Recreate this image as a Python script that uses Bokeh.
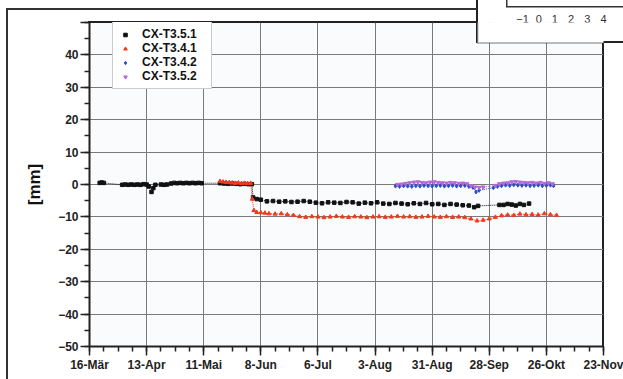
from bokeh.plotting import figure
from bokeh.models import (FixedTicker, Legend, LegendItem, BoxAnnotation,
                          LinearAxis, Range1d, ColumnDataSource)
from bokeh.embed import file_html
from bokeh.resources import INLINE

# ---- data (x = days since 16-Mär) ----
tick_days = [0, 28, 56, 84, 112, 140, 168, 196, 224, 252]
tick_labels = ["16-Mär", "13-Apr", "11-Mai", "8-Jun", "6-Jul", "3-Aug",
               "31-Aug", "28-Sep", "26-Okt", "23-Nov"]
y_ticks = [-50, -40, -30, -20, -10, 0, 10, 20, 30, 40, 50]

cx351_days = [5, 6, 7, 16, 17.5, 19, 20.5, 22, 23.5, 25, 26.5, 28,
              29, 30.4, 31.3, 32.3, 35, 36.5, 38,
              40, 41.5, 43, 44.5, 46, 47.5, 49, 50.5, 52, 53.5, 55,
              64, 66, 68, 70, 72, 74, 76, 78, 79.6, 80.2, 82, 84,
              87, 90, 93, 96, 99, 102, 105, 108, 111, 114, 117, 120, 123, 126,
              129, 132, 135, 138, 141, 144, 147, 150, 153, 156, 159, 162, 165,
              168, 171, 174, 177, 180, 183, 186, 188.6, 190.5,
              201, 203, 205, 207, 209, 211, 213, 215.5]
cx351_vals = [0.5, 0.6, 0.5, -0.1, 0.0, -0.1, 0.0, -0.1, 0.0, -0.1, 0.1, 0.0,
              -0.6, -2.3, -1.1, -0.1, 0.0, -0.1, 0.0,
              0.3, 0.5, 0.4, 0.5, 0.4, 0.5, 0.4, 0.5, 0.4, 0.5, 0.4,
              0.4, 0.3, 0.2, 0.3, 0.2, 0.1, 0.2, 0.1, 0.1, -4.0, -4.5, -4.7,
              -5.2, -5.1, -5.3, -5.2, -5.4, -5.3, -5.1, -5.3, -5.6, -5.8, -5.5,
              -5.6, -5.7, -5.4, -5.5, -5.9, -5.6, -5.8, -5.5, -5.9, -6.0, -5.7,
              -5.9, -6.1, -5.8, -6.0, -5.7, -6.1, -6.0, -6.3, -6.0, -6.2, -6.4,
              -6.5, -7.0, -6.6,
              -6.3, -6.3, -6.0, -6.2, -6.5, -6.0, -6.3, -5.9]

cx341_days = [64, 65.5, 67, 68.5, 70, 71.5, 73, 74.5, 76, 77.5, 79, 79.8, 80.6,
              82, 84, 86, 88, 91, 94, 97, 100, 103, 106, 109, 112, 115, 118,
              121, 124, 127, 130, 133, 136, 139, 142, 145, 148, 151, 154, 157,
              160, 163, 166, 169, 172, 175, 178, 181, 184, 187, 190, 193, 196,
              199, 202, 205, 208, 211, 214, 217, 220, 223, 226, 229]
cx341_vals = [1.0, 0.8, 0.7, 0.6, 0.5, 0.4, 0.5, 0.3, 0.4, 0.3, 0.4, -4.5, -8.0,
              -8.6, -8.7, -8.8, -9.0, -9.1, -9.0, -9.3, -9.5, -9.9, -10.1, -9.9,
              -10.0, -10.2, -10.0, -9.8, -10.0, -10.1, -9.9, -10.0, -10.2, -10.0,
              -9.9, -10.1, -10.0, -9.8, -10.0, -9.9, -10.1, -10.0, -9.8, -10.0,
              -10.1, -9.9, -10.1, -10.0, -10.2, -10.6, -11.2, -11.0, -10.6,
              -10.1, -9.6, -9.4, -9.5, -9.1, -9.3, -9.2, -9.4, -9.0, -9.3, -9.5]

cx342_days = [150, 152, 154, 156, 158, 160, 162, 164, 166, 168, 170, 172, 174,
              176, 178, 180, 182, 184, 186, 188, 189.5, 191,
              198, 200, 202, 204, 206, 208, 210, 212, 214, 216, 218, 220, 222,
              224, 226, 227.5]
cx342_vals = [-0.5, -0.6, -0.4, -0.5, -0.6, -0.4, -0.5, -0.3, -0.4, -0.5, -0.4,
              -0.3, -0.5, -0.4, -0.3, -0.5, -0.4, -0.3, -0.6, -0.9, -2.3, -1.8,
              -1.0, -0.6, -0.4, -0.2, -0.3, -0.1, -0.2, -0.3, -0.2, -0.4, -0.3,
              -0.2, -0.4, -0.3, -0.2, -0.4]

cx352_days = [151, 153, 155, 157, 159, 161, 163, 165, 167, 169, 171, 173, 175,
              177, 179, 181, 183, 185, 187, 189, 191, 193,
              199, 201, 203, 205, 207, 209, 211, 213, 215, 217, 219, 221, 223,
              225, 227]
cx352_vals = [0.0, 0.1, 0.3, 0.5, 0.7, 0.8, 0.6, 0.5, 0.7, 0.8, 0.6, 0.5, 0.4,
              0.6, 0.5, 0.3, 0.4, 0.2, -0.4, -0.8, -0.9, -0.8,
              -0.3, 0.2, 0.4, 0.5, 0.8, 0.9, 0.7, 0.6, 0.5, 0.6, 0.4, 0.6, 0.3,
              0.5, 0.2]

# tick labels of the small inset chart cut off in the upper right corner
inset_ticks = [-1, 0, 1, 2, 3, 4]

series = [
    ("CX-T3.5.1", cx351_days, cx351_vals, "#111111", "square", 3.5),
    ("CX-T3.4.1", cx341_days, cx341_vals, "#f03a1c", "triangle", 4),
    ("CX-T3.4.2", cx342_days, cx342_vals, "#2d4fcf", "diamond", 4),
    ("CX-T3.5.2", cx352_days, cx352_vals, "#b46ad6", "inverted_triangle", 4),
]

FONT = "Liberation Sans"

# screenshot frame, plot-area fill, top/right plot edges and the inset box
# edges, drawn as page background behind the (transparent) figure
bg_layers = [
    "linear-gradient(#333,#333) 6px 8px / 2px 400px no-repeat",
    "linear-gradient(#333,#333) 6px 8px / 471px 2px no-repeat",
    "linear-gradient(#222,#222) 476px 0px / 2px 43px no-repeat",
    "linear-gradient(#222,#222) 476px 41px / 160px 2px no-repeat",
    "linear-gradient(#333,#333) 506px 0px / 1.5px 7px no-repeat",
    "linear-gradient(#333,#333) 506px 5.5px / 130px 1.5px no-repeat",
    "linear-gradient(#222,#222) 88px 21px / 389px 2px no-repeat",
    "linear-gradient(#222,#222) 602px 42px / 2px 305px no-repeat",
    "linear-gradient(#fafbfc,#fafbfc) 89px 22px / 514px 324px no-repeat",
]

p = figure(width=623, height=379, output_backend="svg", toolbar_location=None,
           x_range=Range1d(0, 252), y_range=Range1d(-50, 50),
           min_border_left=89, min_border_right=20, min_border_top=22,
           min_border_bottom=33,
           background_fill_alpha=0, border_fill_alpha=0,
           styles={"background": ", ".join(bg_layers)})

p.outline_line_color = None

# axes
p.xaxis.ticker = FixedTicker(ticks=tick_days, minor_ticks=list(range(0, 253, 7)))
p.xaxis.major_label_overrides = {d: l for d, l in zip(tick_days, tick_labels)}
p.yaxis.ticker = FixedTicker(ticks=y_ticks, minor_ticks=list(range(-50, 51, 5)))
p.yaxis.major_label_overrides = {50: ""}
for ax in (p.xaxis[0], p.yaxis[0]):
    ax.axis_line_color = "#222222"
    ax.axis_line_width = 2
    ax.major_tick_line_color = "#222222"
    ax.major_tick_line_width = 1.5
    ax.minor_tick_line_color = "#222222"
    ax.minor_tick_line_width = 1.5
    ax.major_tick_in = 0
    ax.minor_tick_in = 0
    ax.major_tick_out = 9
    ax.minor_tick_out = 5
    ax.major_label_text_font = FONT
    ax.major_label_text_font_style = "bold"
    ax.major_label_text_font_size = "12px"
    ax.major_label_text_color = "#222222"
    ax.major_label_standoff = 2
p.yaxis.axis_label = "[mm]"
p.yaxis.axis_label_text_font = FONT
p.yaxis.axis_label_text_font_style = "bold"
p.yaxis.axis_label_text_font_size = "17px"
p.yaxis.axis_label_text_color = "#111111"
p.yaxis.axis_label_standoff = 11

# inset's own scale: 16.2 px per unit, value 4 at the right edge of the frame
inset_span = 514 / 16.2
p.extra_x_ranges = {"inset": Range1d(4 - inset_span, 4)}
inset_axis = LinearAxis(x_range_name="inset", ticker=FixedTicker(ticks=inset_ticks),
                        axis_line_color=None, major_tick_line_color=None,
                        minor_tick_line_color=None, major_tick_out=0,
                        major_tick_in=0, minor_tick_out=0, minor_tick_in=0,
                        major_label_standoff=0,
                        major_label_text_font=FONT,
                        major_label_text_font_size="11px",
                        major_label_text_color="#333333")
p.add_layout(inset_axis, "above")

p.xgrid.ticker = FixedTicker(ticks=tick_days)
p.ygrid.ticker = FixedTicker(ticks=y_ticks)
p.grid.grid_line_color = "#7a7a7a"
p.grid.grid_line_width = 1

items = []
for name, xs, ys, color, marker, size in series:
    src = ColumnDataSource(dict(x=xs, y=ys))
    p.line("x", "y", source=src, line_color=color, line_width=1, line_dash="1 1")
    r = p.scatter("x", "y", source=src, marker=marker, size=size,
                  fill_color=color, line_color=color)
    items.append(LegendItem(label=name, renderers=[r]))

legend = Legend(items=items, location=(23, 257))
legend.label_text_font = FONT
legend.label_text_font_style = "bold"
legend.label_text_font_size = "12px"
legend.label_text_color = "#111111"
legend.label_height = 9
legend.label_width = 64
legend.glyph_height = 9
legend.glyph_width = 14
legend.label_standoff = 10
legend.spacing = 0
legend.padding = 5
legend.border_line_color = "#999999"
legend.border_line_width = 1
legend.background_fill_color = "white"
legend.background_fill_alpha = 1
p.add_layout(legend)

# part of the inset box that lies over the plot area
inset = BoxAnnotation(left=477, right=640, top=-4, bottom=42.5,
                      left_units="canvas", right_units="canvas",
                      top_units="canvas", bottom_units="canvas",
                      fill_color="white", fill_alpha=1, line_color="#222222",
                      line_width=2)
p.add_layout(inset)

open("out.html", "w").write(file_html(p, INLINE))
